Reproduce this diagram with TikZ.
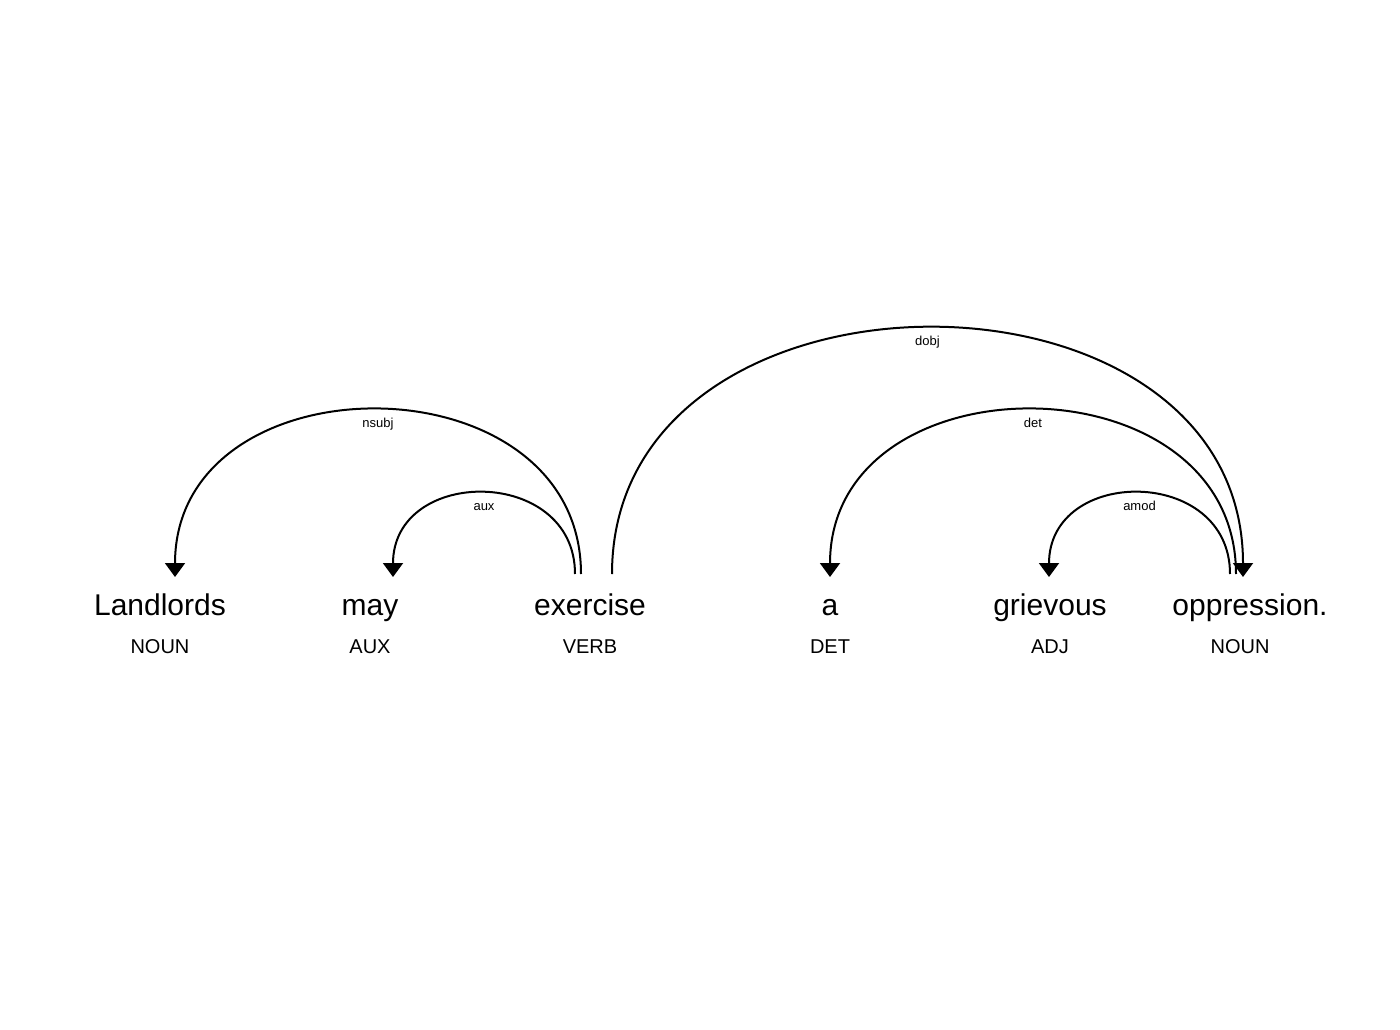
\documentclass[tikz,border=0pt]{standalone}
\usepackage{fontspec}
\setmainfont{Liberation Sans}
\usetikzlibrary{arrows.meta,positioning}

\begin{document}
\begin{tikzpicture}[x=1pt,y=-1pt]
    \tikzstyle{word} = [anchor=base, inner sep=0pt,
    font=\fontsize{30}{36}\selectfont]
    \tikzstyle{tag} = [anchor=base, inner sep=0pt,
    font=\fontsize{20}{24}\selectfont]
    \tikzstyle{dep} = [line width=2pt, -{Triangle[width=20pt,length=14pt]}]
    \tikzstyle{rel} = [anchor=base, inner sep=0pt, yshift=-17.5pt,
    font=\fontsize{13}{15}\selectfont]

    \useasboundingbox (0,0) rectangle (1400,1030);

    \draw
    (160,615) node [word] (landlords) {Landlords}
    (370,615) node [word] (may) {may}
    (590,615) node [word] (exercise) {exercise}
    (830,615) node [word] (a) {a}
    (1050,615) node [word] (grievous) {grievous}
    (1250,615) node [word] (oppression) {oppression.}

    (160,653) node [tag] (t1) {NOUN}
    (370,653) node [tag] (t2) {AUX}
    (590,653) node [tag] (t3) {VERB}
    (830,653) node [tag] (t4) {DET}
    (1050,653) node [tag] (t5) {ADJ}
    (1240,653) node [tag] (t6) {NOUN}
;

    % arc ends
    \coordinate (exercise-aux) at (575,574);
    \coordinate (exercise-nsubj) at (581,574);
    \coordinate (exercise-dobj) at (612,574);
    \coordinate (oppression-amod) at (1230,574);
    \coordinate (oppression-det) at (1236,574);
    \coordinate (landlords-in) at (175,577);
    \coordinate (may-in) at (393,577);
    \coordinate (a-in) at (830,577);
    \coordinate (grievous-in) at (1049,577);
    \coordinate (oppression-in) at (1243,577);

    \draw [dep] (exercise-nsubj) .. controls +(0,-219) and +(0,-222) .. (landlords-in)
    node [rel,pos=.5] {nsubj};
    \draw [dep] (exercise-aux) .. controls +(0,-108) and +(0,-111) .. (may-in)
    node [rel,pos=.5] {aux};
    \draw [dep] (exercise-dobj) .. controls +(0,-328) and +(0,-331) .. (oppression-in)
    node [rel,pos=.5] {dobj};
    \draw [dep] (oppression-det) .. controls +(0,-219) and +(0,-222) .. (a-in)
    node [rel,pos=.5] {det};
    \draw [dep] (oppression-amod) .. controls +(0,-108) and +(0,-111) .. (grievous-in)
    node [rel,pos=.5] {amod};

  \end{tikzpicture}
\end{document}
